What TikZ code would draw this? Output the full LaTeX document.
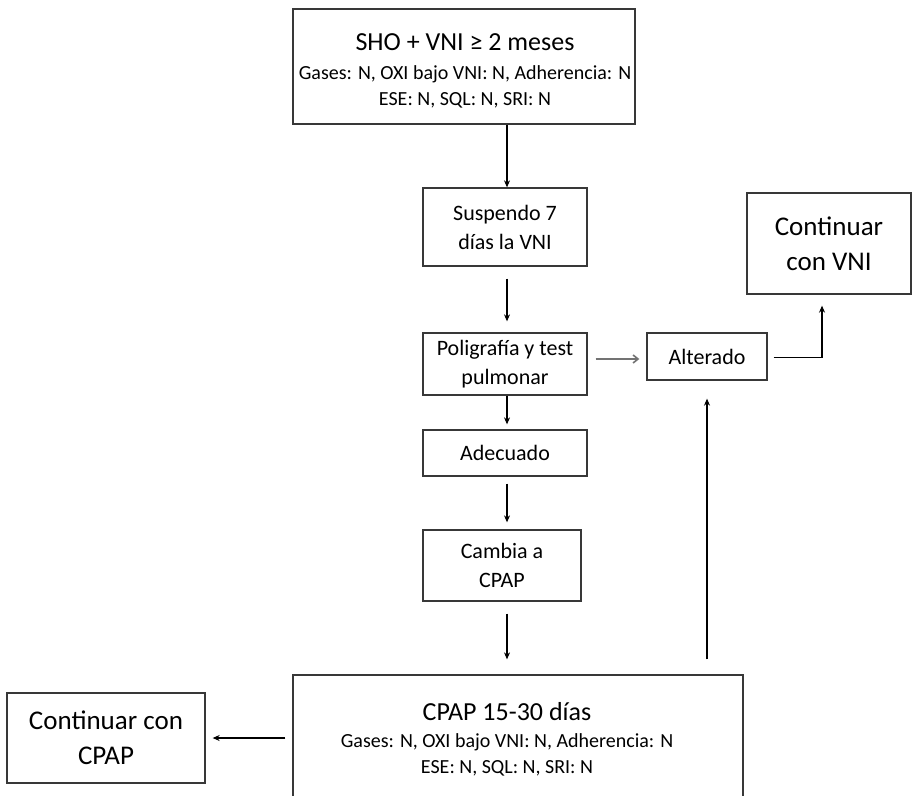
\documentclass[tikz,border=0pt]{standalone}
\usepackage{fontspec}
\setmainfont{Carlito}
\usetikzlibrary{arrows.meta}
\begin{document}
\begin{tikzpicture}[x=1pt,y=-1pt,
  box/.style={draw=black!78, line width=1.3pt, inner sep=0pt, align=center,
              font=\fontsize{22}{29}\selectfont},
  bigbox/.style={box, font=\fontsize{27}{35}\selectfont},
  txt/.style={align=center, inner sep=0pt, font=\fontsize{20}{26}\selectfont},
  arr/.style={-{Stealth[length=7pt,width=6pt]}, line width=1.1pt, black},
  garr/.style={-{Straight Barb[length=5pt,width=8pt]}, line width=1.6pt, black!55}]
\useasboundingbox (0,0) rectangle (917,795);
\clip (0,0) rectangle (917,795);
\fill[white] (0,0) rectangle (917,795);

\node[box, minimum width=342pt, minimum height=115pt] (top) at (464,66.5) {};
\node[txt] (toptxt) at (465,71)
  {{\fontsize{26}{30}\selectfont SHO + VNI ≥ 2 meses}\\[3pt]
   Gases: N, OXI bajo VNI: N, Adherencia: N\\
   ESE: N, SQL: N, SRI: N};

\node[box, minimum width=164pt, minimum height=78pt] (sus) at (505,227)
  {Suspendo 7\\días la VNI};
\node[box, minimum width=164pt, minimum height=62pt] (poli) at (505,364)
  {Poligrafía y test\\pulmonar};
\node[box, minimum width=120pt, minimum height=47pt] (alt) at (707,356.5)
  {Alterado};
\node[bigbox, minimum width=164pt, minimum height=101pt] (cvni) at (829,243.5)
  {Continuar\\con VNI};
\node[box, minimum width=164pt, minimum height=46pt] (adec) at (505,453)
  {Adecuado};
\node[box, minimum width=158pt, minimum height=71pt] (camb) at (502,565.5)
  {Cambia a\\CPAP};
\node[box, minimum width=450pt, minimum height=160pt] (cpap) at (518,755) {};
\node[txt] (cpaptxt) at (507,739)
  {{\fontsize{26}{30}\selectfont CPAP 15-30 días}\\[1pt]
   Gases: N, OXI bajo VNI: N, Adherencia: N\\
   ESE: N, SQL: N, SRI: N};
\node[bigbox, minimum width=198pt, minimum height=90pt] (ccpap) at (106,738)
  {Continuar con\\CPAP};

\coordinate (ax) at (507,0);
\draw[arr] (top.south -| ax) -- (sus.north -| ax);
\draw[arr, shorten <=12pt, shorten >=11pt] (sus.south -| ax) -- (poli.north -| ax);
\draw[arr, shorten >=5pt] (poli.south -| ax) -- (adec.north -| ax);
\draw[arr, shorten <=7pt, shorten >=7pt] (adec.south -| ax) -- (camb.north -| ax);
\draw[arr, shorten <=12pt, shorten >=15pt] (camb.south -| ax) -- (cpap.north -| ax);
\draw[garr] ([xshift=8pt,yshift=5pt]poli.east) -- ([xshift=-7pt,yshift=-2.5pt]alt.west);
\draw[arr] ([xshift=6pt,yshift=-1pt]alt.east) -| ([xshift=-7pt,yshift=-11pt]cvni.south);
\draw[arr, shorten <=15pt, shorten >=18pt] (cpap.north -| alt.south) -- (alt.south);
\draw[arr, shorten <=7pt, shorten >=7pt] (cpap.west |- ccpap.east) -- (ccpap.east);
\end{tikzpicture}
\end{document}
